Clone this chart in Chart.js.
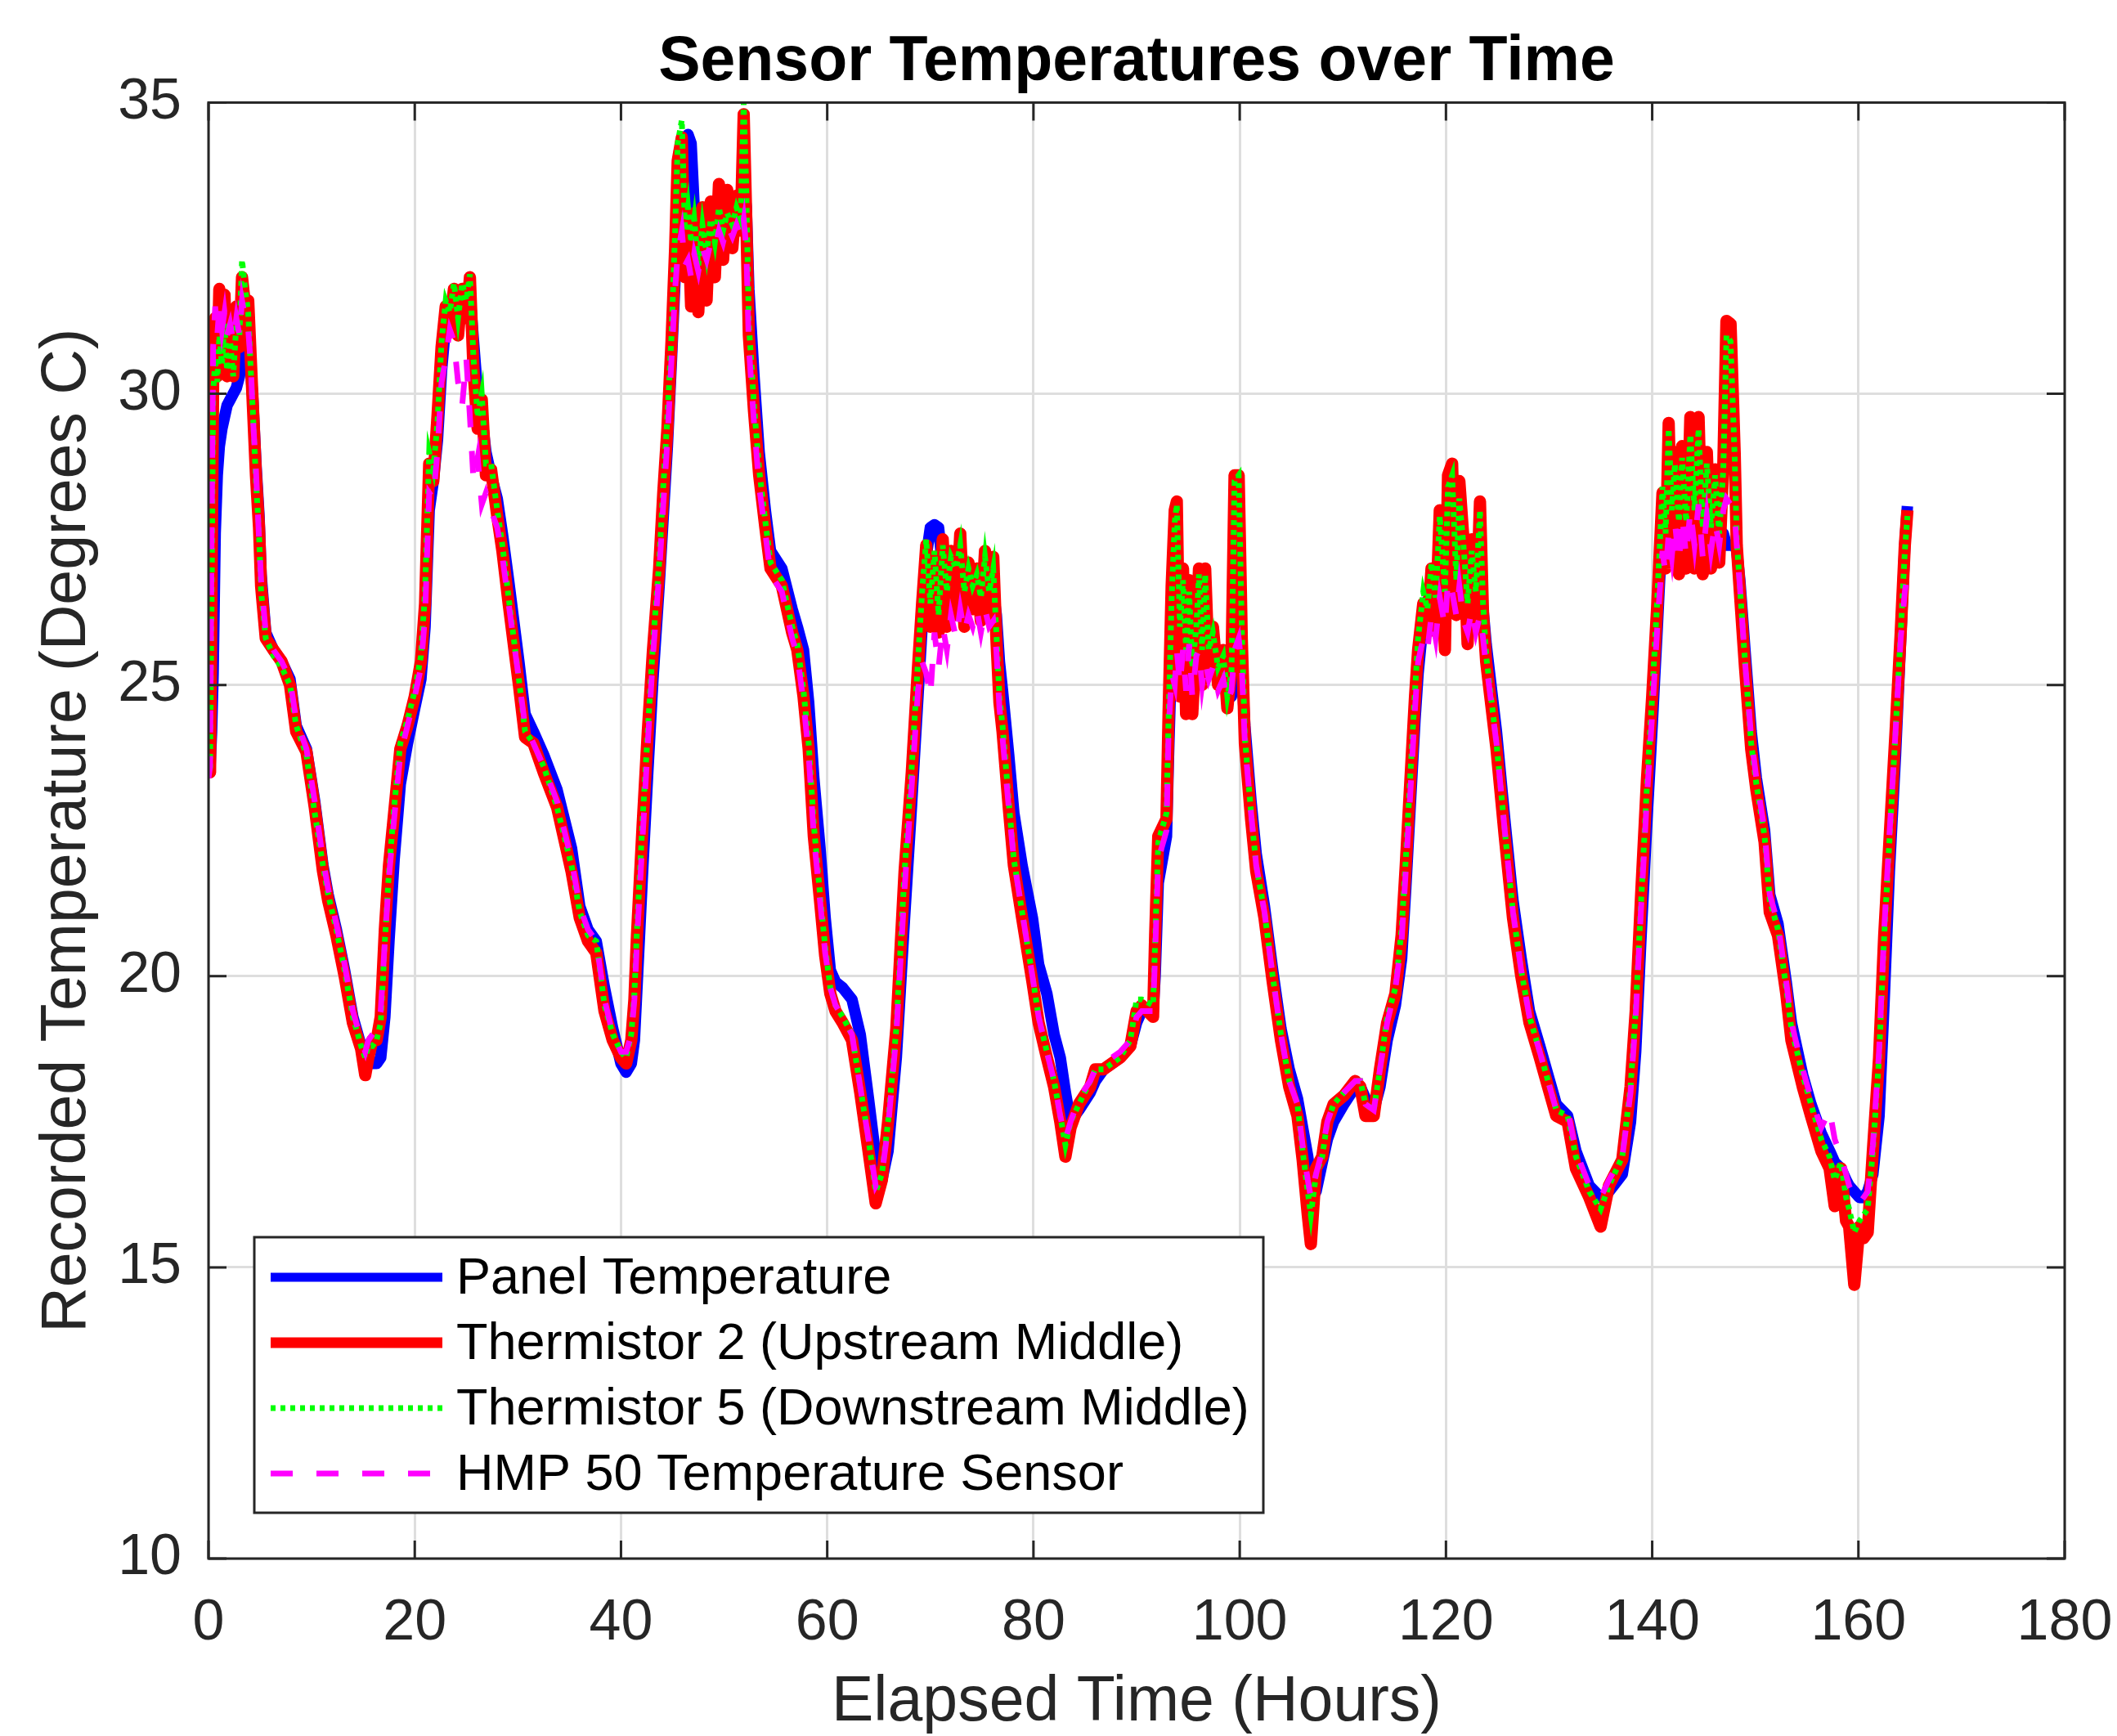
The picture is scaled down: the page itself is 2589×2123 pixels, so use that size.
<!DOCTYPE html>
<html>
<head>
<meta charset="utf-8">
<title>Sensor Temperatures over Time</title>
<script src="https://cdn.jsdelivr.net/npm/chart.js@4.4.0/dist/chart.umd.min.js"></script>
<style>
  html, body { margin: 0; padding: 0; background: #fff; }
</style>
</head>
<body>
<canvas id="tempChart" width="2589" height="2123"></canvas>
<script>
// elapsed time (hours), shared by all four sensors
const hours = [
  0, 0.15, 0.3, 0.45, 0.65, 0.85, 1.05, 1.3, 1.55, 1.8,
  2.1, 2.4, 2.7, 3, 3.25, 3.55, 3.85, 4.1, 4.3, 4.6,
  4.9, 5.1, 5.55, 6.3, 7.1, 7.9, 8.5, 9.5, 10.3, 11.1,
  11.6, 12.4, 13.2, 14, 14.8, 15.2, 15.5, 15.9, 16.3, 16.7,
  17.1, 17.5, 18, 18.6, 19.3, 20, 20.6, 21, 21.4, 21.8,
  22.2, 22.6, 23, 23.4, 23.8, 24.2, 24.6, 25, 25.35, 25.7,
  26.1, 26.5, 26.9, 27.4, 28, 28.5, 29.1, 30.1, 30.7, 31.5,
  32.5, 33.8, 35.2, 36, 36.8, 37.6, 38.4, 39.2, 40, 40.5,
  41, 41.3, 41.55, 42.1, 42.6, 43.1, 43.7, 44.1, 44.5, 44.9,
  45.25, 45.5, 45.9, 46.2, 46.5, 46.8, 47.1, 47.5, 47.9, 48.3,
  48.7, 49.1, 49.5, 49.9, 50.3, 50.8, 51.2, 51.6, 51.9, 52.15,
  52.4, 52.9, 53.4, 54, 54.5, 55.6, 56.6, 57.1, 57.7, 58.2,
  58.7, 59.3, 59.8, 60.3, 60.8, 61.5, 62.4, 63.2, 64, 64.7,
  65.3, 65.9, 66.7, 67.5, 68.2, 68.8, 69.2, 69.6, 70, 70.4,
  70.8, 71.2, 71.6, 72, 72.5, 72.9, 73.3, 73.7, 74.1, 74.5,
  74.9, 75.3, 75.7, 76.1, 76.4, 76.7, 77, 77.6, 78.1, 78.9,
  79.9, 80.5, 81.3, 82, 82.6, 83.1, 83.6, 84.4, 85.5, 86,
  86.8, 88.4, 89.4, 90, 90.5, 91.6, 91.8, 92.1, 92.9, 93.1,
  93.4, 93.7, 93.9, 94.2, 94.5, 94.8, 95.1, 95.4, 95.8, 96.05,
  96.35, 96.65, 97, 97.4, 97.9, 98.4, 98.8, 99.2, 99.5, 99.9,
  100.2, 100.5, 101.1, 101.6, 102.4, 103.2, 104, 104.8, 105.6, 106.1,
  106.6, 106.9, 107.4, 108, 108.5, 109.1, 110.1, 111.2, 111.7, 112.2,
  113, 113.6, 114.3, 115.1, 115.7, 116.1, 116.5, 117, 117.3, 117.8,
  118.2, 118.6, 119, 119.4, 119.9, 120.2, 120.6, 121, 121.3, 121.7,
  122.1, 122.5, 122.9, 123.3, 123.6, 123.9, 124.1, 124.9, 125.7, 126.5,
  127.3, 128.1, 129.1, 129.9, 130.7, 131.8, 132.6, 133.9, 135, 135.8,
  137.1, 137.9, 138.4, 138.9, 139.5, 140, 140.5, 141, 141.3, 141.6,
  141.9, 142.2, 142.6, 142.9, 143.3, 143.7, 144.1, 144.5, 144.9, 145.3,
  145.7, 146.1, 146.5, 146.9, 147.2, 147.6, 148, 148.2, 148.5, 149,
  149.6, 150.1, 150.9, 151.4, 152.2, 153, 153.5, 154.6, 155.4, 156.4,
  157.2, 157.7, 158.3, 158.8, 159.1, 159.6, 160.1, 160.5, 160.9, 161.4,
  162, 162.5, 163, 163.6, 164.1, 164.5, 164.75
];

const panelTemp = [
  23.5, 23.6, 24.2, 25.2, 27.6, 28.6, 29.1, 29.4, 29.6, 29.8,
  29.9, 30.0, 30.1, 30.3, 30.8, 31.0, 30.9, 30.4, 29.9, 28.8,
  27.9, 26.9, 25.9, 25.6, 25.4, 25.1, 24.3, 23.9, 23.0, 21.9,
  21.4, 20.8, 20.1, 19.3, 18.8, 18.7, 18.6, 18.5, 18.5, 18.6,
  19.3, 20.6, 22.0, 23.3, 24.0, 24.6, 25.1, 26.0, 28.0, 28.5,
  29.2, 30.4, 31.2, 31.4, 31.6, 31.4, 31.6, 31.5, 31.7, 30.9,
  30.0, 29.6, 29.0, 28.6, 28.2, 27.6, 26.8, 25.4, 24.5, 24.2,
  23.8, 23.2, 22.2, 21.2, 20.8, 20.6, 19.8, 19.1, 18.5, 18.35,
  18.5, 18.9, 19.8, 21.8, 23.5, 25.1, 26.7, 27.9, 29.1, 30.6,
  32.0, 33.4, 34.2, 34.4, 34.45, 34.3, 33.2, 33.1, 33.1, 33.0,
  33.1, 33.2, 33.3, 33.2, 33.3, 33.2, 33.3, 33.2, 33.6, 33.2,
  31.8, 30.3, 29.0, 28.0, 27.3, 27.0, 26.3, 26.0, 25.6, 24.7,
  23.4, 22.2, 21.0, 20.1, 19.9, 19.8, 19.6, 19.0, 17.9, 16.9,
  16.5, 17.0, 18.6, 21.0, 23.0, 24.8, 26.0, 27.2, 27.7, 27.75,
  27.7, 27.0, 26.8, 26.9, 27.0, 27.1, 26.9, 27.0, 26.9, 26.8,
  26.7, 26.8, 26.7, 26.6, 26.2, 25.4, 24.9, 23.8, 22.8, 21.9,
  21.0, 20.2, 19.7, 19.0, 18.6, 18.0, 17.5, 17.7, 18.0, 18.2,
  18.4, 18.6, 18.8, 19.2, 19.4, 19.4, 20.0, 21.6, 22.4, 23.8,
  25.6, 26.8, 27.2, 26.8, 26.5, 26.2, 26.0, 25.9, 25.8, 25.8,
  25.7, 25.7, 25.6, 25.5, 25.3, 25.1, 24.9, 24.8, 25.4, 25.6,
  25.2, 24.3, 23.0, 22.1, 21.2, 20.1, 19.1, 18.4, 17.9, 17.4,
  16.9, 16.5, 16.3, 16.8, 17.2, 17.5, 17.8, 18.1, 18.1, 17.9,
  17.7, 18.1, 18.9, 19.5, 20.3, 21.5, 22.8, 24.4, 25.2, 26.1,
  26.4, 26.7, 26.9, 27.2, 27.1, 27.4, 27.6, 27.3, 27.2, 27.0,
  26.8, 26.7, 26.6, 26.6, 26.3, 25.7, 25.4, 24.2, 22.7, 21.3,
  20.3, 19.4, 18.8, 18.3, 17.8, 17.6, 17.0, 16.4, 16.2, 16.3,
  16.6, 17.5, 18.7, 20.6, 22.7, 24.3, 26.0, 27.8, 28.0, 28.3,
  28.2, 28.0, 27.9, 28.0, 27.9, 28.1, 28.0, 27.9, 27.7, 27.7,
  27.6, 27.6, 27.5, 27.6, 27.4, 27.4, 27.4, 27.3, 26.8, 25.6,
  24.2, 23.4, 22.5, 21.4, 20.9, 19.9, 19.2, 18.3, 17.8, 17.3,
  17.0, 16.8, 16.7, 16.5, 16.4, 16.3, 16.2, 16.2, 16.3, 16.6,
  17.6, 19.6, 21.8, 23.8, 25.8, 27.4, 28.07
];

const thermistor2 = [
  23.8, 23.5, 26.8, 30.2, 31.3, 30.3, 31.8, 30.4, 31.7, 30.3,
  31.2, 30.3, 31.5, 30.8, 32.0, 31.5, 31.6, 30.6, 29.8, 28.6,
  27.7, 26.7, 25.8, 25.6, 25.4, 25.0, 24.2, 23.85, 22.9, 21.8,
  21.3, 20.7, 20.0, 19.2, 18.75, 18.3, 18.6, 18.9, 18.9, 19.3,
  20.8, 21.9, 22.8, 23.9, 24.3, 24.8, 25.4, 26.4, 28.8, 28.5,
  29.6, 30.8, 31.5, 31.2, 31.8, 31.0, 31.8, 31.3, 32.0, 30.4,
  29.4, 29.9, 28.6, 28.7, 27.9, 27.3, 26.4, 25.0, 24.1, 24.0,
  23.5, 22.9, 21.8, 21.0, 20.6, 20.4, 19.4, 18.9, 18.6, 18.5,
  18.9, 19.6, 20.7, 22.6, 24.2, 25.6, 27.0, 28.3, 29.4, 30.9,
  32.5, 34.0, 34.4, 32.0, 33.0, 31.5, 33.1, 31.4, 33.2, 31.6,
  33.3, 32.0, 33.6, 32.3, 33.5, 32.5, 33.4, 32.8, 34.8, 33.0,
  31.0, 29.7, 28.6, 27.7, 27.0, 26.7, 25.9, 25.6, 24.8, 23.9,
  22.4, 21.3, 20.35, 19.7, 19.4, 19.2, 18.9, 18.0, 17.0, 16.1,
  16.5, 17.5, 19.1, 21.8, 23.5, 25.3, 26.4, 27.4, 26.0, 27.2,
  25.9, 27.5, 26.0, 27.3, 26.2, 27.6, 26.0, 27.1, 26.3, 27.0,
  26.1, 27.3, 26.2, 27.2, 25.8, 24.7, 24.2, 22.9, 21.9, 21.0,
  19.9, 19.2, 18.6, 18.1, 17.5, 16.9, 17.4, 17.8, 18.1, 18.4,
  18.4, 18.6, 18.8, 19.4, 19.5, 19.3, 20.7, 22.4, 22.7, 24.5,
  26.7, 28.0, 28.15, 24.8, 27.0, 24.5, 26.8, 24.5, 25.8, 27.0,
  25.0, 27.0, 25.3, 26.0, 25.0, 25.6, 24.6, 25.3, 28.6, 28.6,
  25.8, 24.0, 22.7, 21.8, 21.0, 19.9, 18.9, 18.1, 17.6, 16.85,
  15.9, 15.4, 16.7, 16.9, 17.5, 17.8, 17.95, 18.2, 18.1, 17.6,
  17.6, 18.4, 19.2, 19.7, 20.7, 21.9, 23.2, 24.8, 25.6, 26.4,
  25.9, 27.0, 26.0, 28.0, 25.6, 28.6, 28.8, 26.2, 28.5, 27.5,
  25.7, 27.5, 26.0, 28.15, 26.2, 25.4, 25.1, 23.9, 22.4, 21.0,
  20.0, 19.2, 18.6, 18.1, 17.6, 17.5, 16.7, 16.2, 15.7, 16.4,
  16.85, 18.1, 19.4, 21.3, 23.4, 24.8, 26.4, 28.3, 27.0, 29.5,
  27.3, 29.0, 26.9, 29.1, 27.0, 29.6, 27.0, 29.6, 26.9, 29.0,
  27.0, 28.7, 27.1, 28.8, 31.25, 31.2, 29.0, 27.4, 26.6, 25.3,
  23.9, 23.2, 22.3, 21.1, 20.7, 19.7, 18.9, 18.1, 17.6, 17.0,
  16.7, 16.05, 16.7, 15.8, 15.7, 14.7, 15.7, 15.5, 15.6, 17.0,
  18.6, 20.7, 22.3, 24.2, 25.9, 27.4, 28.0
];

const thermistor5 = [
  23.6, 23.5, 26.5, 30.0, 30.6, 30.2, 31.0, 30.5, 31.2, 30.4,
  30.9, 30.3, 31.2, 31.0, 32.3, 31.8, 31.4, 30.4, 29.7, 28.5,
  27.6, 26.6, 25.8, 25.5, 25.3, 25.0, 24.3, 23.8, 22.8, 21.9,
  21.4, 20.8, 20.1, 19.3, 18.8, 18.6, 18.8, 18.8, 18.9, 19.2,
  20.6, 21.8, 22.9, 24.0, 24.4, 24.9, 25.5, 26.6, 29.0, 28.7,
  29.5, 30.9, 31.6, 31.4, 31.9, 31.3, 31.9, 31.6, 32.05, 30.6,
  29.6, 30.0, 28.8, 28.8, 28.0, 27.4, 26.5, 25.1, 24.2, 24.0,
  23.6, 22.9, 21.9, 21.1, 20.7, 20.6, 19.5, 19.0, 18.7, 18.6,
  19.0, 19.7, 20.8, 22.7, 24.2, 25.7, 27.1, 28.4, 29.6, 31.0,
  32.8, 34.3, 34.7, 32.8, 33.2, 32.6, 33.0, 32.2, 32.9, 32.4,
  33.0, 32.6, 33.2, 32.8, 33.1, 32.9, 33.2, 33.0, 35.0, 33.5,
  31.2, 29.8, 28.7, 27.8, 27.1, 26.8, 26.0, 25.7, 24.9, 24.0,
  22.6, 21.4, 20.5, 19.8, 19.5, 19.3, 19.0, 18.1, 17.2, 16.3,
  16.6, 17.5, 19.1, 21.8, 23.6, 25.4, 26.6, 27.5, 26.4, 27.3,
  26.2, 27.4, 26.6, 27.2, 27.0, 27.4, 26.6, 27.0, 26.7, 26.9,
  26.5, 27.2, 26.6, 27.0, 25.9, 24.8, 24.3, 23.0, 22.0, 21.1,
  20.0, 19.3, 18.7, 18.2, 17.6, 17.1, 17.5, 17.8, 18.2, 18.4,
  18.4, 18.6, 18.9, 19.6, 19.6, 19.5, 20.6, 22.3, 22.8, 24.4,
  26.5, 27.8, 28.1, 26.0, 26.8, 25.6, 26.6, 25.3, 26.0, 26.9,
  25.6, 26.9, 25.6, 25.9, 25.3, 25.5, 24.8, 25.2, 28.5, 28.6,
  26.0, 24.1, 22.8, 21.9, 21.1, 20.0, 19.0, 18.2, 17.8, 17.0,
  16.3, 15.9, 16.6, 16.9, 17.5, 17.8, 18.0, 18.2, 18.2, 17.8,
  17.7, 18.4, 19.3, 19.8, 20.8, 22.0, 23.3, 24.9, 25.8, 26.6,
  26.3, 27.1, 26.5, 27.9, 26.6, 28.4, 28.6, 26.8, 28.2, 27.4,
  26.4, 27.3, 26.6, 28.0, 26.4, 25.5, 25.2, 24.0, 22.5, 21.1,
  20.1, 19.3, 18.7, 18.2, 17.7, 17.6, 16.9, 16.3, 16.0, 16.4,
  16.9, 18.1, 19.4, 21.2, 23.3, 24.8, 26.5, 28.4, 27.6, 29.4,
  28.0, 28.8, 27.8, 28.9, 27.8, 29.3, 28.0, 29.4, 27.7, 28.8,
  27.7, 28.6, 27.6, 28.7, 31.0, 30.9, 28.9, 27.5, 26.7, 25.4,
  24.0, 23.3, 22.4, 21.3, 20.8, 19.8, 19.1, 18.3, 17.8, 17.2,
  16.9, 16.5, 16.8, 16.2, 16.0, 15.6, 15.8, 15.9, 16.0, 17.0,
  18.6, 20.7, 22.3, 24.2, 25.9, 27.3, 27.9
];

const hmp50 = [
  23.4, 23.6, 27.5, 30.8, 31.5, 31.0, 31.5, 31.1, 31.4, 31.0,
  31.2, 30.9, 31.3, 31.0, 31.6, 31.3, 31.1, 30.5, 29.6, 28.7,
  27.5, 26.8, 25.9, 25.6, 25.4, 25.1, 24.4, 23.9, 23.0, 22.0,
  21.5, 20.9, 20.2, 19.4, 18.9, 18.7, 18.9, 19.0, 19.1, 19.4,
  20.6, 21.7, 22.7, 23.8, 24.3, 24.8, 25.3, 26.2, 28.3, 28.2,
  29.0, 30.2, 30.6, 31.1, 30.9, 30.2, 29.8, 30.6, 29.6, 28.5,
  28.9, 28.1, 28.3, 28.0, 27.7, 27.2, 26.4, 25.1, 24.3, 24.0,
  23.6, 23.0, 22.0, 21.2, 20.8, 20.6, 19.6, 19.0, 18.7, 18.7,
  19.0, 19.6, 20.6, 22.4, 24.0, 25.5, 26.9, 28.1, 29.2, 30.6,
  31.8, 32.4, 32.8, 32.2, 32.3, 32.0, 32.4, 32.1, 32.5, 32.3,
  32.6, 32.5, 32.8, 32.6, 32.9, 32.7, 32.9, 32.7, 33.0, 32.5,
  30.8, 29.5, 28.4, 27.6, 26.9, 26.6, 25.8, 25.5, 24.7, 23.8,
  22.4, 21.3, 20.4, 19.8, 19.5, 19.3, 19.0, 18.1, 17.2, 16.4,
  16.6, 17.4, 19.0, 21.5, 23.3, 24.9, 25.4, 25.2, 24.8, 25.9,
  25.3, 26.0, 25.6, 26.2, 25.8, 26.3, 25.9, 26.2, 26.0, 26.3,
  25.9, 26.3, 26.0, 26.1, 25.6, 24.6, 24.1, 22.9, 22.0, 21.1,
  20.0, 19.3, 18.7, 18.2, 17.6, 17.2, 17.5, 17.9, 18.2, 18.4,
  18.5, 18.7, 18.9, 19.3, 19.4, 19.4, 20.4, 22.0, 22.5, 24.2,
  25.2, 25.0, 25.6, 25.0, 25.6, 24.9, 25.7, 24.8, 25.5, 25.6,
  25.0, 25.4, 25.1, 25.3, 24.9, 25.1, 24.7, 24.9, 25.6, 25.8,
  25.3, 24.0, 22.8, 21.9, 21.1, 20.0, 19.0, 18.2, 17.8, 17.1,
  16.5, 16.2, 16.6, 17.0, 17.5, 17.8, 18.0, 18.2, 18.2, 17.8,
  17.7, 18.4, 19.2, 19.8, 20.6, 21.8, 23.0, 24.6, 25.4, 25.8,
  25.6, 26.2, 25.8, 26.5, 26.0, 26.8, 26.6, 26.2, 26.7, 26.1,
  25.9, 26.3, 25.9, 26.2, 25.8, 25.3, 25.1, 24.0, 22.5, 21.1,
  20.1, 19.3, 18.7, 18.2, 17.7, 17.7, 17.0, 16.4, 16.2, 16.5,
  16.9, 18.0, 19.3, 21.1, 23.1, 24.5, 26.0, 27.3, 26.9, 27.6,
  27.2, 27.8, 27.1, 27.9, 27.2, 28.0, 27.4, 28.1, 27.2, 27.9,
  27.3, 27.8, 27.4, 28.0, 28.2, 28.1, 27.9, 27.4, 26.7, 25.4,
  24.1, 23.4, 22.5, 21.4, 20.9, 19.9, 19.2, 18.4, 17.9, 17.4,
  17.7, 17.2, 16.9, 16.6, 16.4, 16.2, 16.1, 16.2, 16.3, 17.1,
  18.7, 20.8, 22.4, 24.2, 25.8, 26.6, 26.9
];

const xTickValues = [0, 20, 40, 60, 80, 100, 120, 140, 160, 180];
const yTickValues = [10, 15, 20, 25, 30, 35];

const FONT = '"Liberation Sans", Arial, Helvetica, sans-serif';
const AXIS_GREY = '#262626';

const toPoints = vals => hours.map((h, i) => ({ x: h, y: vals[i] }));

// box round the axes with inward tick marks, like the original figure
const axesBox = {
    id: 'axesBox',
    afterDatasetsDraw(chart) {
        const { ctx, chartArea: a, scales: { x, y } } = chart;
        const len = 22;
        ctx.save();
        ctx.strokeStyle = AXIS_GREY;
        ctx.lineWidth = 3;
        ctx.strokeRect(a.left, a.top, a.right - a.left, a.bottom - a.top);
        ctx.beginPath();
        x.ticks.forEach(t => {
            const px = x.getPixelForValue(t.value);
            ctx.moveTo(px, a.bottom); ctx.lineTo(px, a.bottom - len);
            ctx.moveTo(px, a.top); ctx.lineTo(px, a.top + len);
        });
        y.ticks.forEach(t => {
            const py = y.getPixelForValue(t.value);
            ctx.moveTo(a.left, py); ctx.lineTo(a.left + len, py);
            ctx.moveTo(a.right, py); ctx.lineTo(a.right - len, py);
        });
        ctx.stroke();
        ctx.restore();
    }
};

// legend drawn inside the plot, lower left
const insideLegend = {
    id: 'insideLegend',
    afterDatasetsDraw(chart) {
        const { ctx, chartArea: a } = chart;
        const w = 1234, h = 337;
        const left = a.left + 56;
        const top = a.bottom - 56 - h;
        ctx.save();
        ctx.fillStyle = '#fff';
        ctx.fillRect(left, top, w, h);
        ctx.strokeStyle = AXIS_GREY;
        ctx.lineWidth = 3;
        ctx.strokeRect(left, top, w, h);
        ctx.font = '63px ' + FONT;
        ctx.textBaseline = 'middle';
        chart.data.datasets.forEach((ds, i) => {
            const cy = top + 49 + i * 80;
            ctx.beginPath();
            ctx.setLineDash(ds.borderDash || []);
            ctx.lineWidth = ds.legendWidth;
            ctx.strokeStyle = ds.borderColor;
            ctx.moveTo(left + 20, cy);
            ctx.lineTo(left + 230, cy);
            ctx.stroke();
            ctx.setLineDash([]);
            ctx.fillStyle = '#000';
            ctx.fillText(ds.label, left + 247, cy + 3);
        });
        ctx.restore();
    }
};

const ctx = document.getElementById('tempChart').getContext('2d');
new Chart(ctx, {
    type: 'line',
    data: {
        datasets: [{
            label: 'Panel Temperature',
            data: toPoints(panelTemp),
            borderColor: '#0000ff',
            borderWidth: 14,
            legendWidth: 11,
            borderJoinStyle: 'round',
            order: 4
        }, {
            label: 'Thermistor 2 (Upstream Middle)',
            data: toPoints(thermistor2),
            borderColor: '#ff0000',
            borderWidth: 15,
            legendWidth: 13,
            borderJoinStyle: 'round',
            order: 3
        }, {
            label: 'Thermistor 5 (Downstream Middle)',
            data: toPoints(thermistor5),
            borderColor: '#00ff00',
            borderWidth: 7,
            legendWidth: 7,
            borderDash: [6, 6],
            order: 2
        }, {
            label: 'HMP 50 Temperature Sensor',
            data: toPoints(hmp50),
            borderColor: '#ff00ff',
            borderWidth: 7,
            legendWidth: 7,
            borderDash: [27, 29],
            order: 1
        }]
    },
    options: {
        responsive: false,
        animation: false,
        devicePixelRatio: 1,
        layout: { padding: { left: 0, right: 64, top: 0, bottom: 0 } },
        elements: { point: { radius: 0 }, line: { tension: 0, fill: false } },
        plugins: {
            legend: { display: false },
            tooltip: { enabled: false },
            title: {
                display: true,
                text: 'Sensor Temperatures over Time',
                fullSize: false,
                color: '#000',
                font: { family: FONT, size: 77, weight: 'bold', lineHeight: 1.2 },
                padding: { top: 31, bottom: 2 }
            }
        },
        scales: {
            x: {
                type: 'linear',
                min: 0,
                max: 180,
                afterBuildTicks: s => { s.ticks = xTickValues.map(v => ({ value: v })); },
                afterFit: s => {
                    s.height = 217;
                    s.paddingLeft = 0;
                    s.paddingRight = 0;
                },
                grid: { color: '#dedede', lineWidth: 3, drawTicks: false },
                border: { display: false },
                ticks: {
                    color: AXIS_GREY,
                    padding: 38,
                    maxRotation: 0,
                    font: { family: FONT, size: 70 },
                    callback: v => String(v)
                },
                title: {
                    display: true,
                    text: 'Elapsed Time (Hours)',
                    color: AXIS_GREY,
                    font: { family: FONT, size: 77, lineHeight: 1 },
                    padding: { top: 0, bottom: 2 }
                }
            },
            y: {
                type: 'linear',
                min: 10,
                max: 35,
                afterBuildTicks: s => { s.ticks = yTickValues.map(v => ({ value: v })); },
                afterFit: s => {
                    s.width = 255;
                    s.paddingTop = 0;
                    s.paddingBottom = 0;
                },
                grid: { color: '#dedede', lineWidth: 3, drawTicks: false },
                border: { display: false },
                ticks: {
                    color: AXIS_GREY,
                    padding: 33,
                    font: { family: FONT, size: 70 },
                    callback: v => String(v)
                },
                title: {
                    display: true,
                    text: 'Recorded Temperature (Degrees C)',
                    color: AXIS_GREY,
                    font: { family: FONT, size: 77, lineHeight: 1.2 },
                    padding: { top: 37, bottom: 0 }
                }
            }
        }
    },
    plugins: [axesBox, insideLegend]
});
</script>
</body>
</html>
